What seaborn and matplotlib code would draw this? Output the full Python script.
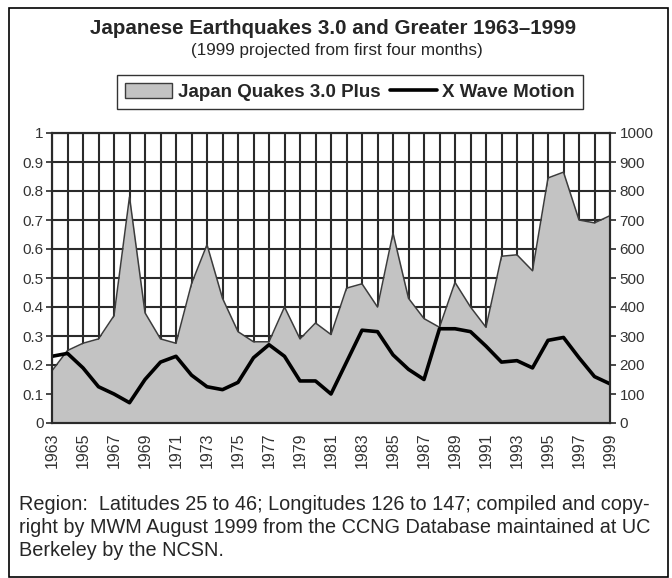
import numpy as np
import pandas as pd
import matplotlib
matplotlib.use("Agg")
import matplotlib.pyplot as plt
import seaborn as sns
from matplotlib.patches import Patch, Rectangle
from matplotlib.lines import Line2D
from matplotlib.ticker import FuncFormatter

# values
years = list(range(1963, 2000))
quakes = [180, 250, 275, 290, 370, 780, 380, 290, 275, 480,
          615, 430, 315, 280, 280, 400, 290, 345, 305, 465,
          480, 400, 655, 430, 360, 330, 485, 400, 330, 575,
          580, 525, 845, 865, 700, 690, 715]
wave = [0.23, 0.24, 0.19, 0.125, 0.10, 0.07, 0.15, 0.21, 0.23, 0.165,
        0.125, 0.115, 0.14, 0.225, 0.27, 0.23, 0.145, 0.145, 0.10, 0.21,
        0.32, 0.315, 0.235, 0.185, 0.15, 0.325, 0.325, 0.315, 0.265, 0.21,
        0.215, 0.19, 0.285, 0.295, 0.225, 0.16, 0.135]
year_labels = years[::2]

titulo = "Japanese Earthquakes 3.0 and Greater 1963\u20131999"
subtitulo = "(1999 projected from first four months)"
legenda = ["Japan Quakes 3.0 Plus", "X Wave Motion"]
rodape = ("Region:  Latitudes 25 to 46; Longitudes 126 to 147; compiled and copy-\n"
          "right by MWM August 1999 from the CCNG Database maintained at UC\n"
          "Berkeley by the NCSN.")

df = pd.DataFrame({"ano": years, "quakes": quakes, "wave": wave})

sns.set_style("white")
plt.rcParams["font.family"] = ["Liberation Sans", "DejaVu Sans"]

cinza = "#c3c3c3"
grade = "#2a2a2a"

fig = plt.figure(figsize=(6.72, 5.78), dpi=100)
ax = fig.add_axes([52 / 672, 1 - 423 / 578, 558 / 672, 290 / 578])
ax2 = ax.twinx()
# linha na frente, area + grade atras
ax.set_zorder(ax2.get_zorder() + 1)
ax.patch.set_visible(False)

# area (eixo da direita)
ax2.fill_between(df["ano"], df["quakes"], color=cinza, zorder=2, linewidth=0)
sns.lineplot(data=df, x="ano", y="quakes", ax=ax2, color="#3c3c3c", linewidth=1.1, zorder=3)

# linha (eixo da esquerda)
sns.lineplot(data=df, x="ano", y="wave", ax=ax, color="black", linewidth=2.6)

ax.set_xlim(1963, 1999)
ax.set_ylim(0, 1)
ax2.set_ylim(0, 1000)

ax.set_xticks(year_labels)
ax.set_xticks(years, minor=True)
ax.set_xticklabels([str(a) for a in year_labels], rotation=90)
ax.set_yticks(np.arange(0, 1.01, 0.1))
ax.yaxis.set_major_formatter(FuncFormatter(lambda v, p: f"{v:.1f}".rstrip("0").rstrip(".") if v else "0"))
ax2.set_yticks(range(0, 1001, 100))

ax.tick_params(axis="both", which="both", direction="out", length=4, width=1.2,
               color=grade, labelcolor="#333333", labelsize=11, pad=2)
ax.tick_params(axis="x", labelsize=11.5, pad=3)
ax2.tick_params(axis="y", direction="out", length=4, width=1.2, color=grade,
                labelcolor="#333333", labelsize=11, pad=3)

# grade desenhada no eixo de tras para ficar atras da area
ax2.xaxis.set_visible(True)
ax2.tick_params(axis="x", which="both", length=0, labelbottom=False, labeltop=False)
ax2.set_axisbelow(True)
ax2.grid(axis="x", which="both", color=grade, linewidth=1.5)
ax2.grid(axis="y", which="major", color=grade, linewidth=1.5)
ax.grid(False)

for a in (ax, ax2):
    a.set_xlabel("")
    a.set_ylabel("")
    for s in a.spines.values():
        s.set_color(grade)
        s.set_linewidth(1.5)

# titulos
fig.text(333 / 672, 1 - 28 / 578, titulo, ha="center", va="center",
         fontsize=14.8, fontweight="bold")
fig.text(337 / 672, 1 - 50 / 578, subtitulo, ha="center", va="center", fontsize=12.3)

# legenda
handles = [Patch(facecolor=cinza, edgecolor="#3c3c3c", linewidth=1.0),
           Line2D([], [], color="black", linewidth=2.6)]
fig.legend(handles, legenda, ncol=2, loc="center",
           bbox_to_anchor=(350 / 672, 1 - 92 / 578), frameon=True, fancybox=False,
           edgecolor="#333333", framealpha=1, prop={"weight": "bold", "size": 13.5},
           handlelength=2.5, handleheight=0.8, handletextpad=0.3, columnspacing=0.5,
           borderpad=0.45)

# rodape
fig.text(19 / 672, 1 - 495 / 578, rodape, ha="left", va="top", fontsize=14.3,
         linespacing=1.26)

# moldura
fig.add_artist(Rectangle((9 / 672, 1 / 578), 659 / 672, 569 / 578, transform=fig.transFigure,
                         fill=False, edgecolor="black", linewidth=1.2))

fig.savefig("out.png", dpi=100)
